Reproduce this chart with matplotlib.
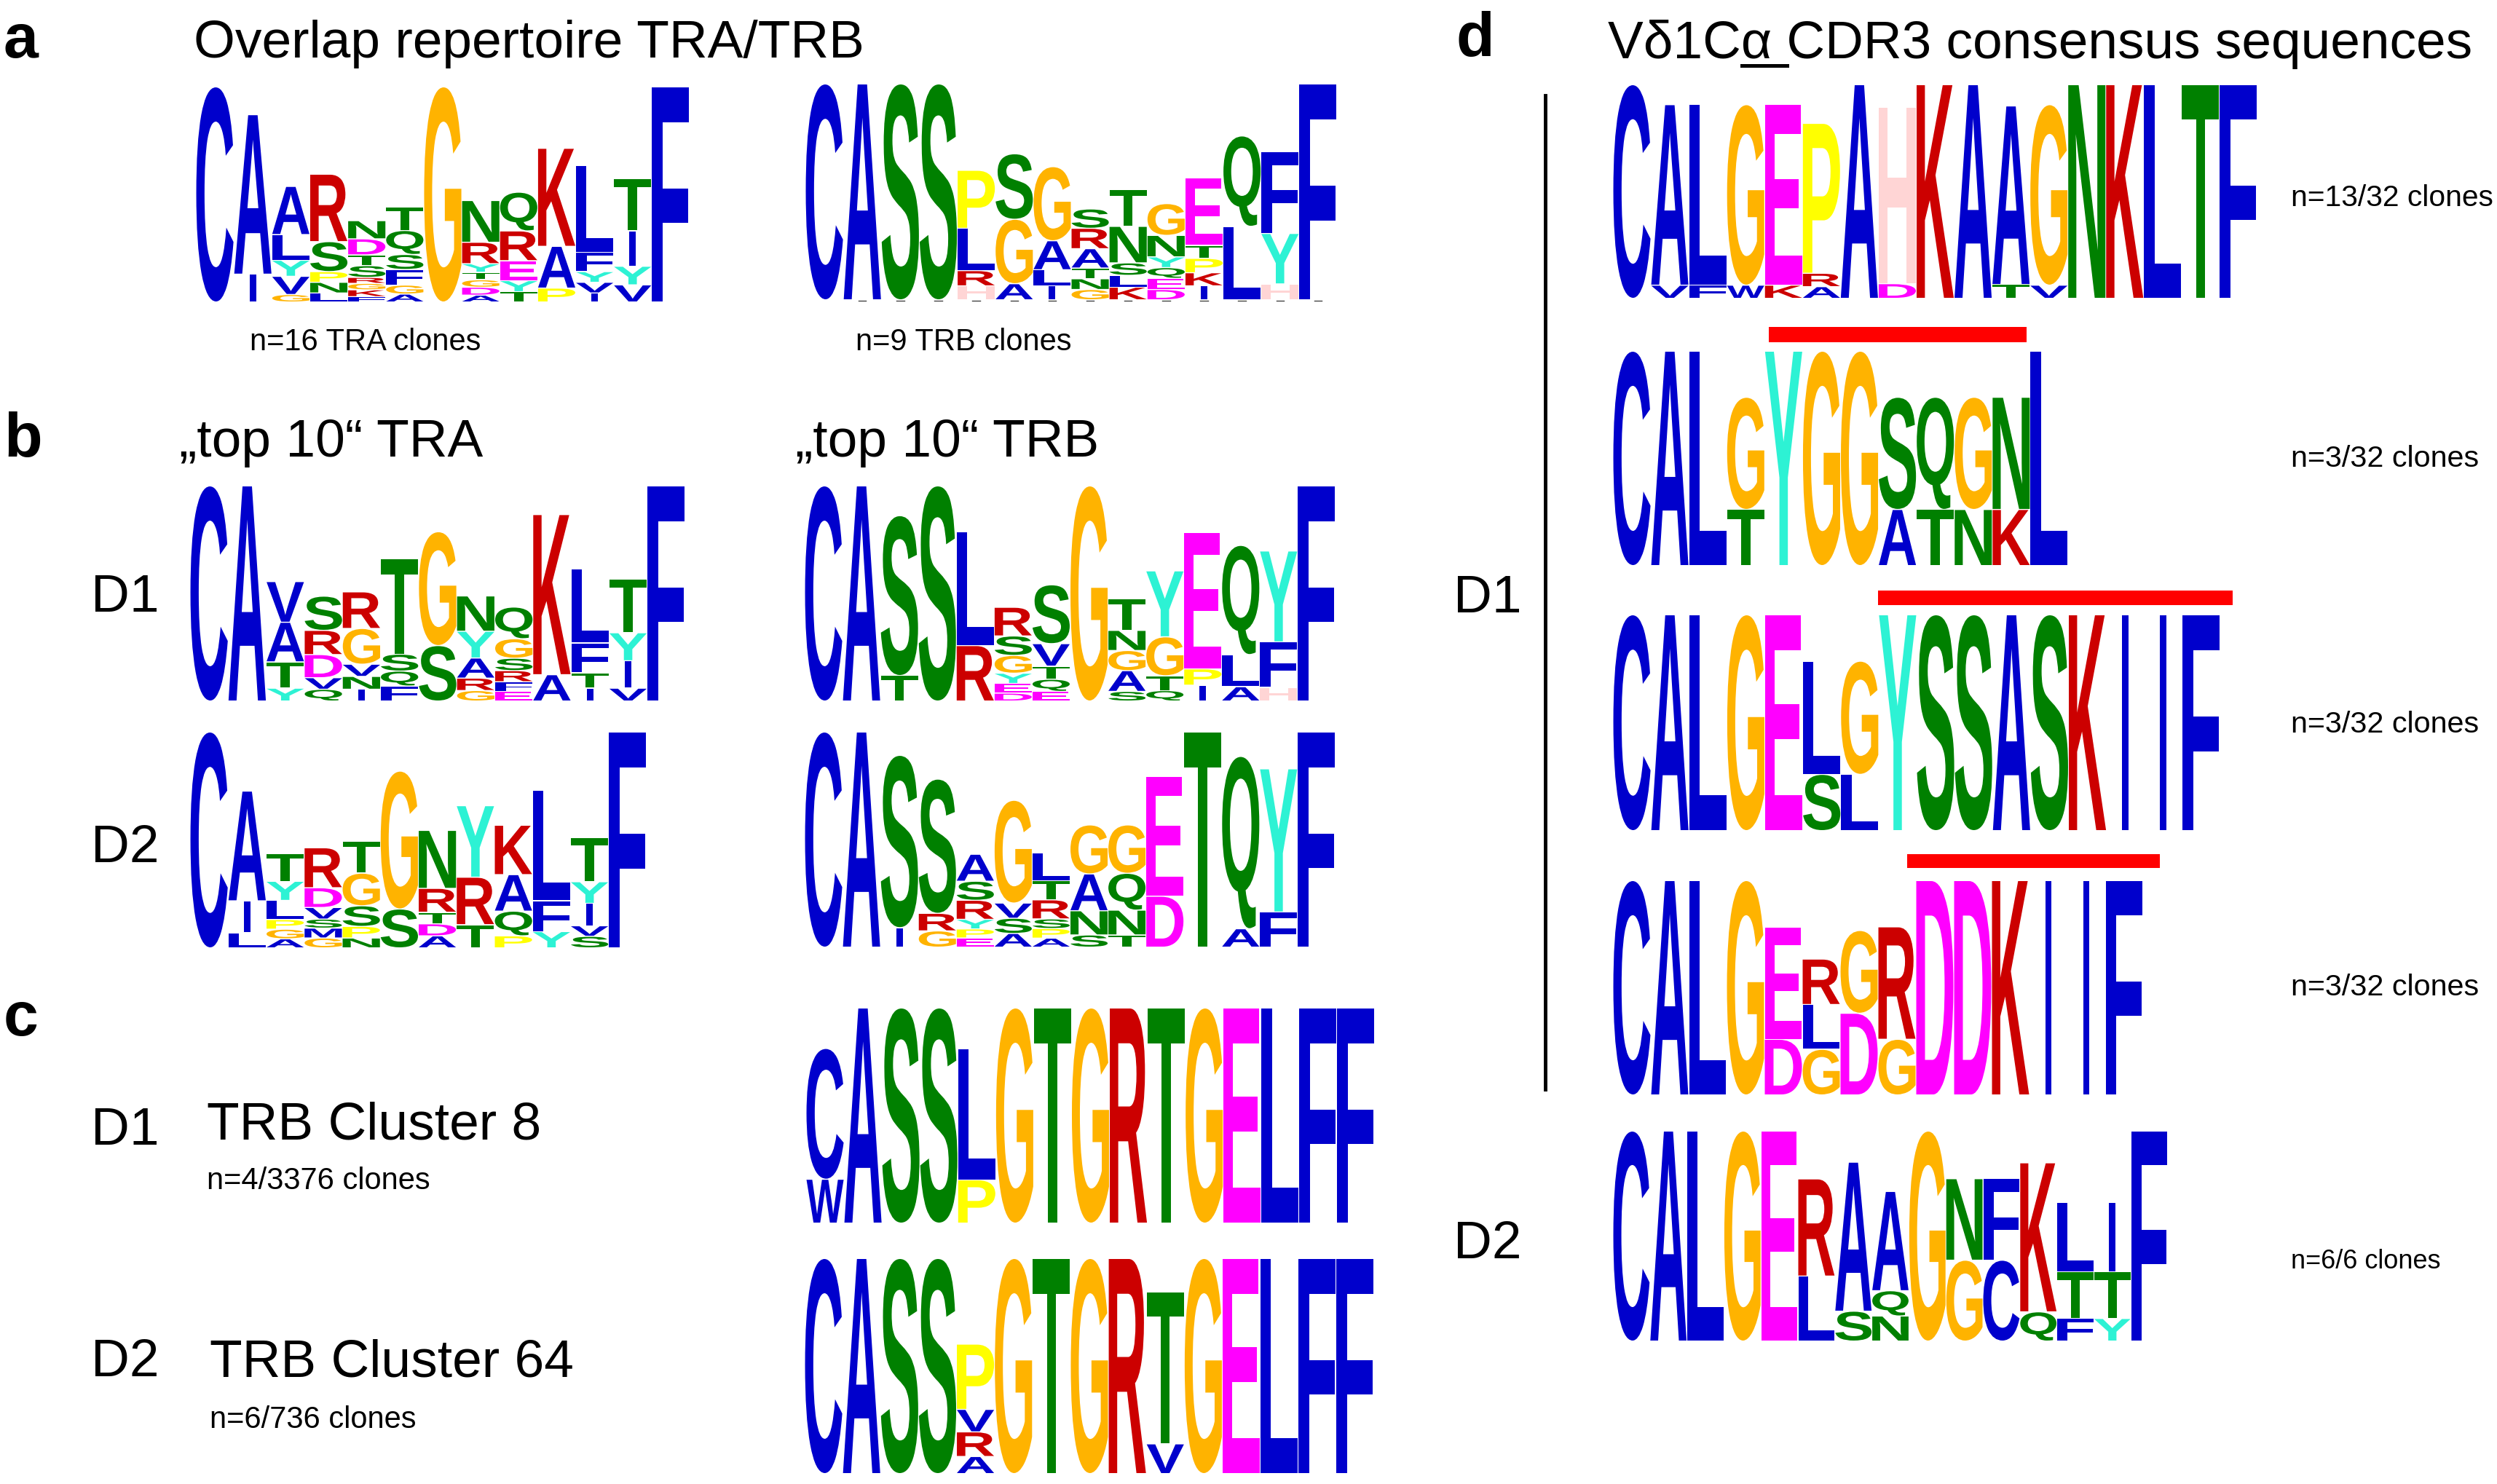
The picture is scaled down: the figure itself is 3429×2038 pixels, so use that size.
import matplotlib
matplotlib.use('Agg')
import matplotlib.pyplot as plt
from matplotlib.font_manager import FontProperties
from matplotlib.lines import Line2D
from matplotlib.patches import PathPatch, Rectangle
from matplotlib.textpath import TextPath
from matplotlib.transforms import Affine2D

# every column lists (letter, height) from bottom to top, heights as share of full logo height
OVERLAP_TRA = [
    [('C', 1)], [('I', .125), ('A', .74)],
    [('G', .03), ('V', .08), ('Y', .07), ('L', .115), ('A', .22)],
    [('L', .037), ('N', .045), ('P', .045), ('S', .135), ('R', .31)],
    [('F', .02), ('K', .027), ('G', .025), ('R', .023), ('S', .05), ('T', .045), ('D', .07), ('N', .08)],
    [('A', .032), ('G', .037), ('F', .068), ('S', .065), ('Q', .107), ('T', .105)],
    [('G', 1)],
    [('A', .027), ('D', .032), ('G', .03), ('T', .03), ('Y', .035), ('R', .095), ('N', .19)],
    [('T', .043), ('Y', .047), ('E', .088), ('R', .134), ('Q', .176)],
    [('P', .06), ('A', .19), ('K', .453)],
    [('I', .037), ('V', .045), ('Y', .045), ('F', .085), ('L', .40)],
    [('V', .075), ('Y', .082), ('I', .16), ('T', .24)],
    [('F', 1)],
]
OVERLAP_TRB = [
    [('C', 1)], [('A', 1)], [('S', 1)], [('S', 1)],
    [('H', .06), ('R', .066), ('L', .192), ('P', .265)],
    [('A', .07), ('G', .295), ('S', .30)],
    [('I', .06), ('L', .07), ('A', .13), ('G', .34)],
    [('G', .043), ('N', .045), ('T', .045), ('A', .085), ('R', .09), ('S', .085)],
    [('K', .054), ('L', .05), ('S', .053), ('N', .165), ('T', .167)],
    [('D', .043), ('E', .047), ('Q', .045), ('Y', .045), ('N', .095), ('G', .143)],
    [('I', .06), ('K', .056), ('P', .062), ('T', .056), ('E', .31)],
    [('L', .337), ('Q', .416)],
    [('H', .069), ('Y', .23), ('F', .376)],
    [('F', 1)],
]
TOP10_TRA_D1 = [
    [('C', 1)], [('A', 1)],
    [('Y', .055), ('T', .118), ('A', .18), ('V', .185)],
    [('Q', .05), ('V', .049), ('D', .103), ('R', .108), ('S', .155)],
    [('I', .05), ('N', .055), ('V', .052), ('G', .162), ('R', .166)],
    [('F', .065), ('Q', .065), ('S', .074), ('T', .44)],
    [('S', .254), ('G', .527)],
    [('G', .044), ('R', .053), ('A', .089), ('Y', .12), ('N', .16)],
    [('E', .04), ('F', .04), ('R', .047), ('S', .053), ('G', .086), ('Q', .143)],
    [('A', .118), ('K', .743)],
    [('I', .055), ('T', .066), ('F', .136), ('L', .34)],
    [('V', .055), ('I', .123), ('Y', .126), ('T', .247)],
    [('F', 1)],
]
TOP10_TRA_D2 = [
    [('C', 1)],
    [('L', .066), ('I', .143), ('A', .506)],
    [('A', .037), ('G', .04), ('P', .04), ('L', .084), ('Y', .084), ('T', .125)],
    [('G', .041), ('M', .041), ('S', .037), ('V', .049), ('D', .087), ('R', .181)],
    [('N', .041), ('P', .049), ('S', .091), ('G', .147), ('T', .144)],
    [('S', .176), ('G', .637)],
    [('A', .051), ('D', .051), ('T', .049), ('R', .106), ('N', .265)],
    [('T', .103), ('R', .216), ('Y', .328)],
    [('P', .051), ('Q', .11), ('A', .165), ('K', .225)],
    [('Y', .071), ('F', .138), ('L', .51)],
    [('S', .049), ('V', .044), ('I', .099), ('Y', .096), ('T', .199)],
    [('F', 1)],
]
TOP10_TRB_D1 = [
    [('C', 1)], [('A', 1)],
    [('T', .114), ('S', .742)],
    [('S', 1)],
    [('R', .254), ('L', .527)],
    [('D', .032), ('E', .04), ('Y', .043), ('G', .078), ('S', .086), ('R', .129)],
    [('E', .04), ('Q', .052), ('T', .056), ('V', .1), ('S', .27)],
    [('G', 1)],
    [('S', .04), ('A', .092), ('G', .089), ('N', .089), ('T', .143)],
    [('Q', .044), ('T', .064), ('G', .177), ('Y', .303)],
    [('I', .069), ('P', .071), ('E', .634)],
    [('A', .062), ('L', .145), ('Q', .505)],
    [('H', .059), ('F', .207), ('Y', .42)],
    [('F', 1)],
]
TOP10_TRB_D2 = [
    [('C', 1)], [('A', 1)],
    [('I', .086), ('S', .8)],
    [('G', .071), ('R', .077), ('S', .622)],
    [('E', .038), ('P', .037), ('Y', .04), ('R', .084), ('S', .084), ('A', .121)],
    [('A', .059), ('S', .066), ('V', .066), ('G', .475)],
    [('A', .037), ('P', .04), ('S', .04), ('R', .084), ('T', .084), ('L', .125)],
    [('S', .052), ('N', .108), ('A', .167), ('G', .224)],
    [('T', .052), ('N', .111), ('Q', .167), ('G', .221)],
    [('D', .233), ('E', .555)],
    [('T', 1)],
    [('A', .081), ('Q', .8)],
    [('F', .159), ('Y', .664)],
    [('F', 1)],
]
CLUSTER_8 = [
    [('W', .2), ('C', .606)], [('A', 1)], [('S', 1)], [('S', 1)],
    [('P', .197), ('L', .609)],
    [('G', 1)], [('T', 1)], [('G', 1)], [('R', 1)], [('T', 1)], [('G', 1)],
    [('E', 1)], [('L', 1)], [('F', 1)], [('F', 1)],
]
CLUSTER_64 = [
    [('C', 1)], [('A', 1)], [('S', 1)], [('S', 1)],
    [('A', .075), ('R', .11), ('V', .10), ('P', .30)],
    [('G', 1)], [('T', 1)], [('G', 1)], [('R', 1)],
    [('V', .134), ('T', .706)],
    [('G', 1)], [('E', 1)], [('L', 1)], [('F', 1)], [('F', 1)],
]
CDR3_D1_A = [
    [('C', 1)],
    [('V', .057), ('A', .844)],
    [('F', .057), ('L', .844)],
    [('W', .057), ('G', .844)],
    [('K', .057), ('E', .844)],
    [('A', .05), ('R', .058), ('P', .70)],
    [('A', 1)],
    [('D', .064), ('H', .826)],
    [('K', 1)], [('A', 1)],
    [('T', .06), ('A', .835)],
    [('V', .057), ('G', .844)],
    [('N', 1)], [('K', 1)], [('L', 1)], [('T', 1)], [('F', 1)],
]
CDR3_D1_B = [
    [('C', 1)], [('A', 1)], [('L', 1)],
    [('T', .258), ('G', .521)],
    [('Y', 1)], [('G', 1)], [('G', 1)],
    [('A', .258), ('S', .521)],
    [('T', .258), ('Q', .521)],
    [('N', .258), ('G', .521)],
    [('K', .258), ('N', .521)],
    [('L', 1)],
]
CDR3_D1_C = [
    [('C', 1)], [('A', 1)], [('L', 1)], [('G', 1)], [('E', 1)],
    [('S', .257), ('L', .522)],
    [('L', .257), ('G', .522)],
    [('Y', 1)], [('S', 1)], [('S', 1)], [('A', 1)], [('S', 1)], [('K', 1)],
    [('I', 1)], [('I', 1)], [('F', 1)],
]
CDR3_D1_D = [
    [('C', 1)], [('A', 1)], [('L', 1)], [('G', 1)],
    [('D', .256), ('E', .522)],
    [('G', .209), ('L', .205), ('R', .208)],
    [('D', .378), ('G', .383)],
    [('G', .256), ('R', .522)],
    [('D', 1)], [('D', 1)], [('K', 1)], [('I', 1)], [('I', 1)], [('F', 1)],
]
CDR3_D2 = [
    [('C', 1)], [('A', 1)], [('L', 1)], [('G', 1)], [('E', 1)],
    [('L', .306), ('R', .46)],
    [('S', .138), ('A', .708)],
    [('N', .115), ('Q', .116), ('A', .47)],
    [('G', 1)],
    [('G', .382), ('N', .385)],
    [('C', .382), ('F', .385)],
    [('Q', .135), ('K', .708)],
    [('F', .103), ('T', .218), ('L', .327)],
    [('Y', .103), ('T', .218), ('I', .327)],
    [('F', 1)],
]

COLORS = {}
for letters, c in [('ACFILMVW', '#0000cc'), ('STNQ', '#008000'), ('G', '#ffb300'), ('RK', '#cc0000'),
                   ('DE', '#ff00ff'), ('P', '#ffff00'), ('Y', '#2df2d4'), ('H', '#ffd5d5')]:
    for l in letters:
        COLORS[l] = c

W, H = 3430, 2038
FONT = 'Liberation Sans'
GLYPH_FONT = FontProperties(family=FONT, weight='bold')
STACK_GAP = 0.005


def draw_logo(fig, columns, left, top, right, bottom):
    # pixel box of the logo -> one axes per logo, 1 unit = 1 column
    ax = fig.add_axes([left / W, 1 - bottom / H, (right - left) / W, (bottom - top) / H])
    ax.set_xlim(0, len(columns))
    ax.set_ylim(0, 1)
    ax.axis('off')
    for i, col in enumerate(columns):
        y = 0
        for letter, h in col:
            path = TextPath((0, 0), letter, size=1, prop=GLYPH_FONT)
            box = path.get_extents()
            cw = 0.17 if letter == 'I' else 0.98
            x = i + (1 - cw) / 2
            tr = Affine2D().translate(-box.x0, -box.y0).scale(cw / box.width, h / box.height).translate(x, y)
            ax.add_patch(PathPatch(path, transform=tr + ax.transData, fc=COLORS[letter], lw=0, clip_on=False))
            y += h + STACK_GAP
    return ax


def label(fig, x, y, s, size, weight='normal'):
    fig.text(x / W, 1 - y / H, s, fontsize=size, family=FONT, weight=weight, va='center', ha='left')


def main():
    fig = plt.figure(figsize=(W / 100, H / 100), dpi=100, facecolor='white')

    draw_logo(fig, OVERLAP_TRA, 269, 120, 947, 414)
    ax = draw_logo(fig, OVERLAP_TRB, 1106, 116, 1836, 411)
    # cut off tops of the position numbers under this logo
    for i in range(1, len(OVERLAP_TRB)):
        ax.plot([i + .4, i + .6], [-.008, -.008], color='#444444', lw=1.0, clip_on=False)
    draw_logo(fig, TOP10_TRA_D1, 261, 668, 941, 962)
    draw_logo(fig, TOP10_TRA_D2, 261, 1006, 888, 1301)
    draw_logo(fig, TOP10_TRB_D1, 1105, 668, 1834, 962)
    draw_logo(fig, TOP10_TRB_D2, 1105, 1006, 1834, 1300)
    draw_logo(fig, CLUSTER_8, 1107, 1385, 1888, 1679)
    draw_logo(fig, CLUSTER_64, 1105, 1729, 1887, 2023)
    draw_logo(fig, CDR3_D1_A, 2215, 117, 3100, 409)
    draw_logo(fig, CDR3_D1_B, 2215, 483, 2840, 776)
    draw_logo(fig, CDR3_D1_C, 2215, 845, 3049, 1140)
    draw_logo(fig, CDR3_D1_D, 2215, 1210, 2943, 1503)
    draw_logo(fig, CDR3_D2, 2215, 1554, 2977, 1841)

    # panel letters
    label(fig, 5, 57, 'a', 62, 'bold')
    label(fig, 5, 605, 'b', 62, 'bold')
    label(fig, 5, 1400, 'c', 62, 'bold')
    label(fig, 2000, 55, 'd', 62, 'bold')

    # headings
    label(fig, 266, 61, 'Overlap repertoire TRA/TRB', 52.7)
    label(fig, 246, 609, '„top 10“ TRA', 52.7)
    label(fig, 1092, 609, '„top 10“ TRB', 52.7)
    label(fig, 2208, 61, 'Vδ1Cα CDR3 consensus sequences', 52.6)
    fig.add_artist(Line2D([2392 / W, 2454 / W], [1 - 90 / H, 1 - 90 / H], color='black', lw=3.6))

    label(fig, 125, 821, 'D1', 52.7)
    label(fig, 125, 1166, 'D2', 52.7)
    label(fig, 125, 1553, 'D1', 52.7)
    label(fig, 125, 1872, 'D2', 52.7)
    label(fig, 284, 1546, 'TRB Cluster 8', 52.7)
    label(fig, 288, 1872, 'TRB Cluster 64', 52.7)
    label(fig, 1996, 822, 'D1', 52.7)
    label(fig, 1996, 1710, 'D2', 52.7)

    label(fig, 343, 470, 'n=16 TRA clones', 30)
    label(fig, 1175, 470, 'n=9 TRB clones', 30)
    label(fig, 284, 1622, 'n=4/3376 clones', 30)
    label(fig, 288, 1950, 'n=6/736 clones', 30)
    label(fig, 3146, 272, 'n=13/32 clones', 29.3)
    label(fig, 3146, 630, 'n=3/32 clones', 29.7)
    label(fig, 3146, 995, 'n=3/32 clones', 29.7)
    label(fig, 3146, 1356, 'n=3/32 clones', 29.7)
    label(fig, 3146, 1733, 'n=6/6 clones', 26)

    # vertical line grouping the D1 logos, red bars over shared motifs
    fig.add_artist(Line2D([2122 / W, 2122 / W], [1 - 131 / H, 1 - 1496 / H], color='black', lw=3.5))
    for x0, x1, y0, y1 in [(2429, 2783, 449, 470), (2579, 3066, 811, 831), (2619, 2966, 1173, 1192)]:
        fig.add_artist(Rectangle((x0 / W, 1 - y1 / H), (x1 - x0) / W, (y1 - y0) / H,
                                 transform=fig.transFigure, color='#ff0000', lw=0))

    fig.savefig('out.png', dpi=100)


if __name__ == '__main__':
    main()
